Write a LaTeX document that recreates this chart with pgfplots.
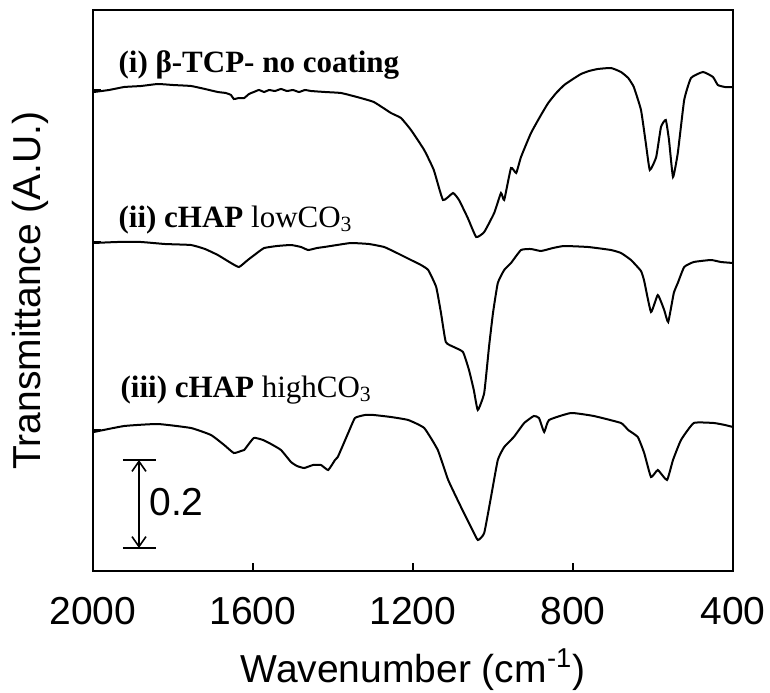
\documentclass[border=0pt]{standalone}
\usepackage{pgfplots}
\pgfplotsset{compat=1.18}
\usepackage{fontspec}
\setmainfont{Liberation Sans}
\newfontfamily\tnr{Liberation Serif}
\usetikzlibrary{arrows.meta}

% spectra: wavenumber vs. offset transmittance (px units, 88 = 0.2)
\pgfplotstableread{
wn   t
1998 479
1960 481
1922 484
1880 485
1838 487
1800 486
1755 485
1720 482
1688 479
1668 478
1655 476
1648 472
1635 473
1622 473
1610 477
1598 479
1585 481
1572 479
1560 481
1545 480
1530 482
1515 480
1500 481
1485 479
1470 481
1455 480
1420 479
1380 478
1340 474
1298 469
1255 458
1230 453
1205 441
1172 421
1148 401
1125 371
1100 378
1085 371
1063 353
1042 334
1022 339
997 358
980 378
972 371
955 403
942 398
930 414
905 438
880 456
862 468
842 478
822 486
800 492
780 497
760 500
738 502
705 503
680 499
662 493
648 484
630 461
618 428
608 401
592 414
580 444
568 451
560 431
550 394
538 418
522 471
505 493
475 499
450 494
438 486
420 484
400 484
}\tcp

\pgfplotstableread{
wn   t
1998 328
1940 329
1880 329
1820 327
1755 326
1720 322
1688 316
1655 308
1635 304
1613 311
1590 318
1572 323
1540 325
1505 326
1480 324
1462 321
1440 323
1422 324
1390 326
1355 328
1310 327
1272 324
1240 318
1205 311
1180 306
1162 301
1142 284
1130 258
1118 229
1098 224
1075 219
1060 201
1048 181
1038 161
1022 178
1010 224
1000 258
988 288
972 301
955 308
930 321
905 322
880 320
850 323
822 325
762 324
705 321
680 318
655 311
630 300
622 290
605 259
588 276
572 261
562 249
548 278
538 288
522 304
498 309
455 311
430 309
400 308
}\low

\pgfplotstableread{
wn   t
1998 139
1922 145
1838 147
1755 143
1705 136
1672 126
1648 118
1630 120
1622 121
1598 133
1575 131
1555 127
1530 121
1505 109
1490 105
1472 103
1450 106
1430 106
1412 101
1395 111
1388 114
1362 138
1345 153
1320 156
1298 156
1255 154
1212 151
1172 143
1138 121
1112 91
1080 64
1055 44
1038 31
1022 38
1005 74
988 111
972 124
948 134
922 148
898 155
885 153
872 139
860 151
805 158
748 155
680 148
662 141
638 134
622 118
605 94
588 101
565 91
550 111
530 131
498 148
448 148
420 146
400 144
}\high

\begin{document}
\begin{tikzpicture}
\path[use as bounding box] (-46.5pt,-60.5pt) rectangle (338.5pt,285.5pt);
\begin{axis}[
  scale only axis,
  width=320pt, height=280.5pt,
  x dir=reverse,
  xmin=400, xmax=2000,
  ymin=0, ymax=561,
  xtick={400,800,1200,1600,2000},
  xtick pos=bottom,
  ytick={141,329,481},
  yticklabels={},
  ytick pos=left,
  tick align=inside,
  major tick length=4pt,
  axis line style={line width=1pt},
  tick style={line width=0.8pt, black},
  /pgf/number format/assume math mode=true,
  /pgf/number format/1000 sep={},
  xticklabel style={font=\fontsize{19.5}{23}\selectfont, inner sep=0pt, yshift=-13pt},
  xlabel={Wavenumber (cm\textsuperscript{-1})},
  xlabel style={font=\fontsize{19.5}{23}\selectfont, at={(axis description cs:0.5,-0.198)}, anchor=base},
  ylabel={Transmittance (A.U.)},
  ylabel style={font=\fontsize{19.5}{23}\selectfont, at={(axis description cs:-0.098,0.50)}, anchor=center},
  clip=false,
]
\addplot[black, line width=1pt, smooth, tension=0.25] table[x=wn, y=t] {\tcp};
\addplot[black, line width=1pt, smooth, tension=0.25] table[x=wn, y=t] {\low};
\addplot[black, line width=1pt, smooth, tension=0.25] table[x=wn, y=t] {\high};

\node[anchor=base west, inner sep=0pt, font=\tnr\bfseries\fontsize{15.5}{18}\selectfont]
  at (axis cs:1937,499) {(i) β-TCP- no coating};
\node[anchor=base west, inner sep=0pt, font=\tnr\bfseries\fontsize{15.5}{18}\selectfont]
  at (axis cs:1937,344) {(ii) cHAP {\mdseries lowCO\textsubscript{3}}};
\node[anchor=base west, inner sep=0pt, font=\tnr\bfseries\fontsize{15.5}{18}\selectfont]
  at (axis cs:1932,174) {(iii) cHAP {\mdseries highCO\textsubscript{3}}};

% scale bar
\draw[line width=0.8pt, {Straight Barb[length=5pt,width=7pt]}-{Straight Barb[length=5pt,width=7pt]}]
  (axis cs:1885,111) -- (axis cs:1885,23);
\draw[line width=0.8pt] (axis cs:1925,111) -- (axis cs:1842,111);
\draw[line width=0.8pt] (axis cs:1925,23) -- (axis cs:1842,23);
\node[anchor=west, inner sep=0pt, font=\fontsize{19.5}{23}\selectfont] at (axis cs:1860,69) {0.2};
\end{axis}
\end{tikzpicture}
\end{document}
